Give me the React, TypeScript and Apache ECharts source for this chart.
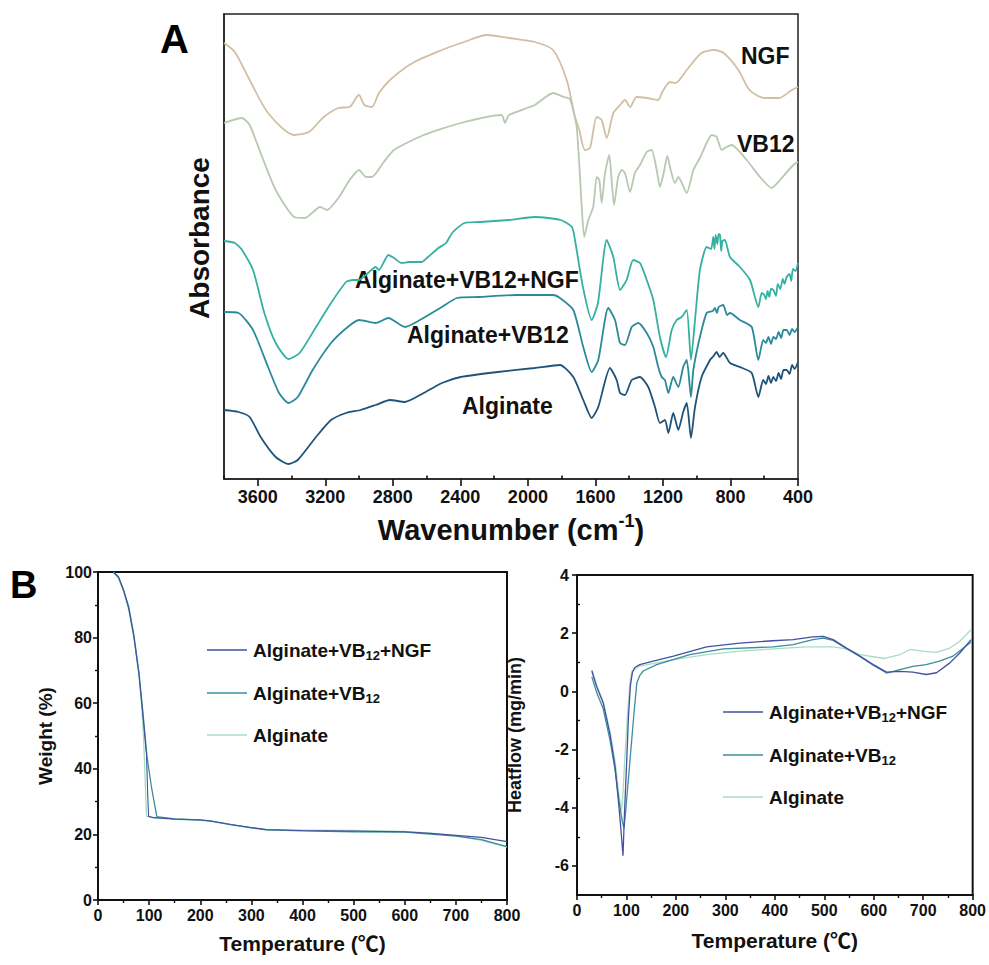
import React, { useEffect, useRef } from "react";
import * as echarts from "echarts";

// ---------- Panel A: FTIR (wavenumber cm-1, absorbance a.u.) ----------
const ftirNGF: number[][] = [
  [3800, 4.36], [3736, 4.27], [3648, 3.99], [3539, 3.66], [3385, 3.44], [3297, 3.47], [3209, 3.62],
  [3122, 3.71], [3056, 3.72], [3001, 3.84], [2968, 3.74], [2924, 3.72], [2882, 3.86], [2817, 3.99],
  [2683, 4.16], [2509, 4.29], [2378, 4.37], [2244, 4.44], [2112, 4.41], [1959, 4.37], [1851, 4.29],
  [1770, 3.99], [1721, 3.62], [1697, 3.5], [1662, 3.29], [1632, 3.31], [1592, 3.62], [1563, 3.59],
  [1533, 3.41], [1494, 3.66], [1454, 3.74], [1425, 3.79], [1395, 3.72], [1356, 3.82], [1296, 3.81],
  [1228, 3.79], [1207, 3.86], [1178, 3.94], [1158, 3.97], [1125, 3.96], [1059, 4.09], [972, 4.26],
  [898, 4.29], [840, 4.26], [753, 4.09], [687, 3.89], [602, 3.81], [513, 3.81], [436, 3.89], [400, 3.92],
];
const ftirVB12: number[][] = [
  [3800, 3.56], [3693, 3.61], [3648, 3.54], [3583, 3.26], [3494, 2.89], [3385, 2.62], [3320, 2.61],
  [3231, 2.72], [3190, 2.69], [3122, 2.81], [3056, 2.99], [3000, 3.09], [2959, 3.02], [2924, 3.02],
  [2858, 3.16], [2793, 3.29], [2617, 3.44], [2398, 3.56], [2156, 3.64], [2136, 3.56], [2112, 3.64],
  [1959, 3.74], [1851, 3.86], [1786, 3.82], [1751, 3.8], [1711, 3.52], [1681, 2.72], [1666, 2.42],
  [1642, 2.59], [1613, 2.72], [1592, 3.02], [1577, 2.99], [1563, 2.76], [1543, 3.06], [1518, 3.24],
  [1504, 2.99], [1490, 2.74], [1465, 3.02], [1444, 3.09], [1425, 3.06], [1395, 2.87], [1366, 3.06],
  [1336, 3.14], [1296, 3.27], [1267, 3.29], [1237, 3.09], [1218, 2.92], [1198, 3.04], [1174, 3.23],
  [1154, 3.09], [1129, 2.96], [1109, 3.02], [1059, 2.86], [1020, 3.09], [981, 3.21], [941, 3.36],
  [911, 3.44], [882, 3.42], [852, 3.29], [823, 3.32], [793, 3.34], [704, 3.19], [625, 3.02],
  [556, 2.91], [507, 2.99], [428, 3.14], [400, 3.17],
];
const ftirAlgVB12NGF: number[][] = [
  [3800, 2.38], [3736, 2.36], [3693, 2.29], [3628, 2.09], [3561, 1.66], [3494, 1.36], [3418, 1.2],
  [3352, 1.26], [3255, 1.52], [3166, 1.76], [3077, 1.97], [3036, 1.99], [3000, 1.99], [2947, 2.06],
  [2902, 2.12], [2882, 2.09], [2826, 2.24], [2793, 2.21], [2749, 2.16], [2704, 2.17], [2628, 2.17],
  [2598, 2.21], [2530, 2.31], [2485, 2.36], [2444, 2.47], [2376, 2.56], [2290, 2.57], [2112, 2.59],
  [1959, 2.62], [1806, 2.59], [1739, 2.52], [1721, 2.39], [1674, 1.92], [1622, 1.59], [1585, 1.76],
  [1533, 2.39], [1494, 2.22], [1454, 1.89], [1415, 1.99], [1376, 2.19], [1336, 2.16], [1296, 1.99],
  [1257, 1.79], [1218, 1.42], [1182, 1.22], [1148, 1.49], [1119, 1.59], [1089, 1.62], [1059, 1.69],
  [1034, 1.19], [1010, 1.59], [981, 2.09], [941, 2.32], [915, 2.3], [902, 2.42], [895, 2.3],
  [888, 2.44], [878, 2.35], [870, 2.45], [862, 2.44], [855, 2.28], [848, 2.38], [833, 2.39],
  [803, 2.22], [744, 2.12], [684, 1.99], [635, 1.72], [615, 1.86], [600, 1.84], [590, 1.8],
  [580, 1.88], [570, 1.82], [560, 1.9], [546, 1.89], [530, 1.83], [520, 1.95], [505, 1.9],
  [490, 2.0], [480, 1.95], [467, 2.02], [450, 2.05], [440, 1.98], [430, 2.1], [415, 2.08], [400, 2.16],
];
const ftirAlgVB12: number[][] = [
  [3800, 1.67], [3714, 1.66], [3628, 1.49], [3539, 1.12], [3474, 0.86], [3418, 0.76], [3363, 0.82],
  [3275, 1.09], [3166, 1.36], [3067, 1.52], [3000, 1.59], [2902, 1.56], [2826, 1.61], [2728, 1.52],
  [2639, 1.59], [2509, 1.72], [2420, 1.81], [2290, 1.82], [2070, 1.84], [1851, 1.84], [1810, 1.81],
  [1731, 1.69], [1672, 1.32], [1622, 1.07], [1583, 1.19], [1524, 1.71], [1484, 1.59], [1454, 1.36],
  [1425, 1.34], [1385, 1.52], [1346, 1.56], [1296, 1.46], [1257, 1.32], [1228, 1.12], [1207, 1.02],
  [1188, 0.99], [1168, 0.86], [1139, 1.02], [1109, 0.92], [1080, 1.12], [1059, 1.19], [1034, 0.82],
  [1020, 1.09], [981, 1.42], [941, 1.66], [905, 1.68], [892, 1.71], [880, 1.66], [870, 1.72],
  [843, 1.74], [820, 1.64], [803, 1.66], [744, 1.59], [674, 1.52], [635, 1.19], [606, 1.39],
  [590, 1.36], [575, 1.42], [560, 1.35], [546, 1.42], [530, 1.4], [515, 1.47], [500, 1.41],
  [486, 1.49], [467, 1.49], [450, 1.44], [435, 1.5], [420, 1.47], [400, 1.52],
];
const ftirAlg: number[][] = [
  [3800, 0.69], [3714, 0.67], [3648, 0.62], [3583, 0.42], [3494, 0.22], [3418, 0.15], [3363, 0.19],
  [3255, 0.42], [3166, 0.59], [3077, 0.66], [2990, 0.69], [2902, 0.74], [2817, 0.79], [2728, 0.77],
  [2617, 0.86], [2509, 0.96], [2398, 1.02], [2178, 1.07], [1959, 1.11], [1810, 1.14], [1731, 1.02],
  [1672, 0.79], [1622, 0.61], [1583, 0.72], [1514, 1.11], [1474, 0.99], [1454, 0.86], [1425, 0.84],
  [1385, 0.99], [1336, 1.02], [1287, 0.92], [1247, 0.72], [1218, 0.56], [1188, 0.59], [1168, 0.46],
  [1139, 0.66], [1109, 0.49], [1080, 0.67], [1059, 0.76], [1034, 0.41], [1010, 0.72], [971, 1.02],
  [921, 1.19], [905, 1.22], [882, 1.27], [865, 1.22], [843, 1.26], [803, 1.16], [744, 1.12],
  [674, 1.06], [635, 0.82], [606, 0.99], [590, 0.95], [575, 1.03], [560, 0.96], [546, 1.02],
  [530, 0.98], [515, 1.06], [500, 1.0], [486, 1.09], [467, 1.09], [450, 1.05], [435, 1.14],
  [420, 1.1], [400, 1.17],
];
const ftirTicks = [400, 800, 1200, 1600, 2000, 2400, 2800, 3200, 3600];
const ftirMinorTicks = [600, 1000, 1400, 1800, 2200, 2600, 3000, 3400, 3800];

// ---------- Panel B left: TGA (temperature °C, weight %) ----------
const tgaAlgVB12NGF: number[][] = [
  [30, 100], [40, 98.5], [50, 94.5], [60, 89], [70, 80.5], [80, 69], [88, 56], [95, 44], [97, 33],
  [99, 25.5], [110, 25.1], [150, 24.7], [200, 24.4], [220, 24.1], [260, 23], [300, 22.1], [330, 21.5],
  [400, 21.2], [500, 21], [600, 20.8], [650, 20.3], [700, 19.7], [750, 19.1], [800, 17.8],
];
const tgaAlgVB12: number[][] = [
  [30, 100], [40, 98.5], [50, 94.5], [60, 89.5], [70, 81], [80, 69.5], [88, 57], [96, 43.5],
  [105, 34], [115, 25.4], [130, 25.1], [150, 24.7], [200, 24.4], [220, 24.1], [260, 23], [300, 22],
  [330, 21.4], [400, 21.1], [500, 20.8], [600, 20.7], [650, 20.1], [700, 19.5], [750, 18.4], [800, 16.3],
];
const tgaAlg: number[][] = [
  [30, 100], [40, 98], [50, 94], [60, 88.5], [70, 80], [80, 68.5], [85, 60], [89, 50], [91, 42],
  [93, 33], [95, 25.5], [110, 25], [150, 24.6], [200, 24.3], [220, 24], [260, 22.9], [300, 22],
  [330, 21.3], [400, 21.3], [500, 21.2], [600, 20.9], [650, 20.4], [700, 19.6], [750, 18.2], [800, 16.1],
];

// ---------- Panel B right: DSC (temperature °C, heat flow mg/min) ----------
const dscAlgVB12NGF: number[][] = [
  [30, 0.7], [40, 0.15], [53, -0.4], [67, -1.5], [77, -2.6], [85, -4.0], [90, -5.0], [93, -5.65],
  [96, -4.2], [100, -2.6], [104, -0.9], [108, 0.2], [112, 0.65], [117, 0.82], [127, 0.92], [150, 1.02],
  [195, 1.21], [262, 1.53], [329, 1.66], [396, 1.74], [437, 1.78], [477, 1.87], [498, 1.89], [518, 1.78],
  [545, 1.49], [572, 1.21], [599, 0.92], [626, 0.66], [653, 0.69], [679, 0.66], [706, 0.58], [727, 0.64],
  [754, 0.98], [774, 1.32], [797, 1.78],
];
const dscAlgVB12: number[][] = [
  [30, 0.5], [40, -0.05], [53, -0.6], [67, -1.7], [77, -2.7], [86, -3.9], [92, -4.5], [95, -4.7],
  [98, -4.2], [104, -3.0], [110, -1.8], [116, -0.6], [121, 0.3], [127, 0.55], [134, 0.7], [161, 0.92],
  [228, 1.26], [296, 1.46], [397, 1.53], [437, 1.61], [477, 1.78], [498, 1.83], [518, 1.75], [545, 1.47],
  [572, 1.2], [599, 0.9], [626, 0.63], [653, 0.75], [679, 0.86], [706, 0.92], [733, 1.04], [760, 1.21],
  [797, 1.7],
];
const dscAlg: number[][] = [
  [30, 0.75], [40, 0.2], [53, -0.35], [67, -1.4], [77, -2.4], [85, -3.6], [90, -4.1], [93, -3.5],
  [97, -2.2], [102, -0.8], [107, 0.3], [111, 0.7], [127, 0.87], [195, 1.09], [262, 1.26], [329, 1.38],
  [397, 1.46], [464, 1.53], [518, 1.53], [545, 1.46], [572, 1.26], [599, 1.19], [622, 1.13], [653, 1.26],
  [673, 1.44], [700, 1.38], [727, 1.34], [754, 1.49], [774, 1.72], [797, 2.12],
];
const dscMajorTicks = [-6, -4, -2, 0, 2, 4];
const dscMinorTicks = [-5, -3, -1, 1, 3];

const FONT = "Liberation Sans, Arial, Helvetica, sans-serif";
const C = {
  ngf: "#d3bea4",
  vb12: "#b7c9b1",
  algVB12NGF: "#35b0a1",
  algVB12: "#2b8a9a",
  alg: "#1f5479",
  bNGF: "#4650a0",
  bVB12: "#3a8f9a",
  bAlg: "#a8dcc4",
};

const legendRich = {
  a: { fontSize: 19, fontWeight: "bold", fontFamily: FONT, fill: "#111", color: "#111" },
  s: { fontSize: 13, fontWeight: "bold", fontFamily: FONT, fill: "#111", color: "#111", padding: [10, 0, 0, 0] },
};

function legendItems(x: number, ys: number[]) {
  const items = [
    { color: C.bNGF, text: "{a|Alginate+VB}{s|12}{a|+NGF}" },
    { color: C.bVB12, text: "{a|Alginate+VB}{s|12}" },
    { color: C.bAlg, text: "{a|Alginate}" },
  ];
  const out: any[] = [];
  items.forEach((it, i) => {
    out.push({
      type: "line",
      shape: { x1: x, y1: ys[i], x2: x + 40, y2: ys[i] },
      style: { stroke: it.color, lineWidth: 1.5 },
    });
    out.push({
      type: "text",
      x: x + 46,
      y: ys[i],
      style: {
        text: it.text,
        rich: legendRich,
        verticalAlign: "middle",
        align: "left",
      },
    });
  });
  return out;
}

export default function App() {
  const ref = useRef<HTMLDivElement>(null);
  useEffect(() => {
    if (!ref.current) return;
    const chart = echarts.init(ref.current, undefined, { renderer: "svg" });
    const axisLine = { show: true, onZero: false, lineStyle: { color: "#111", width: 2 } };
    const lbl = (size: number) => ({ fontSize: size, fontWeight: "bold", color: "#111", fontFamily: FONT });
    const line = (name: string, data: number[][], color: string, xi: number, yi: number, w = 1.6, smooth: any = false) => ({
      type: "line",
      name,
      data,
      xAxisIndex: xi,
      yAxisIndex: yi,
      showSymbol: false,
      symbol: "none",
      smooth,
      lineStyle: { color, width: w },
      itemStyle: { color },
      silent: true,
    });
    const tickStyle = { color: "#111", width: 1.6 };
    const option: any = {
      animation: false,
      backgroundColor: "#fff",
      grid: [
        { left: 224, top: 14, width: 574, height: 465, show: true, borderColor: "#222", borderWidth: 1.5 },
        { left: 98, top: 572, width: 409, height: 328, show: true, borderColor: "#111", borderWidth: 2 },
        { left: 577, top: 575, width: 396, height: 320, show: true, borderColor: "#111", borderWidth: 2 },
      ],
      xAxis: [
        {
          gridIndex: 0, type: "value", min: 400, max: 3800, inverse: true,
          axisLine: { ...axisLine, lineStyle: { color: "#222", width: 1.5 } }, splitLine: { show: false },
          axisTick: { show: true, length: 7, customValues: ftirTicks, lineStyle: tickStyle },
          axisLabel: { ...lbl(18), margin: 9, customValues: ftirTicks, formatter: (v: number) => String(v) },
          name: "{t|Wavenumber (cm}{p|-1}{t|)}",
          nameLocation: "middle", nameGap: 33,
          nameTextStyle: {
            rich: {
              t: { fontSize: 29, fontWeight: "bold", fontFamily: FONT, color: "#111" },
              p: { fontSize: 18, fontWeight: "bold", fontFamily: FONT, color: "#111", padding: [0, 0, 17, 0] },
            },
          },
        },
        {
          gridIndex: 0, type: "value", min: 400, max: 3800, inverse: true,
          axisLine: { show: false }, splitLine: { show: false }, axisLabel: { show: false },
          axisTick: { show: true, length: 3.5, customValues: ftirMinorTicks, lineStyle: tickStyle },
        },
        {
          gridIndex: 1, type: "value", min: 0, max: 800, interval: 100,
          axisLine, splitLine: { show: false },
          axisTick: { show: true, length: 5, lineStyle: tickStyle },
          minorTick: { show: true, splitNumber: 2, length: 3, lineStyle: { color: "#111", width: 1.4 } },
          axisLabel: { ...lbl(16), margin: 7 },
          name: "Temperature (℃)", nameLocation: "middle", nameGap: 33,
          nameTextStyle: { fontSize: 21, fontWeight: "bold", fontFamily: FONT + ", Noto Sans CJK SC", color: "#111" },
        },
        {
          gridIndex: 2, type: "value", min: 0, max: 800, interval: 100,
          axisLine, splitLine: { show: false },
          axisTick: { show: true, length: 5, lineStyle: tickStyle },
          minorTick: { show: true, splitNumber: 2, length: 3, lineStyle: { color: "#111", width: 1.4 } },
          axisLabel: { ...lbl(16), margin: 7 },
          name: "Temperature (℃)", nameLocation: "middle", nameGap: 35,
          nameTextStyle: { fontSize: 21, fontWeight: "bold", fontFamily: FONT + ", Noto Sans CJK SC", color: "#111" },
        },
      ],
      yAxis: [
        {
          gridIndex: 0, type: "value", min: 0, max: 4.65,
          axisLine: { ...axisLine, lineStyle: { color: "#222", width: 1.5 } },
          splitLine: { show: false }, axisTick: { show: false }, axisLabel: { show: false },
        },
        {
          gridIndex: 1, type: "value", min: 0, max: 100, interval: 20,
          axisLine, splitLine: { show: false },
          axisTick: { show: true, length: 5, lineStyle: tickStyle },
          minorTick: { show: true, splitNumber: 2, length: 3, lineStyle: { color: "#111", width: 1.4 } },
          axisLabel: { ...lbl(16), margin: 6 },
          name: "Weight (%)", nameLocation: "middle", nameGap: 43, nameRotate: 90,
          nameTextStyle: { fontSize: 19, fontWeight: "bold", fontFamily: FONT, color: "#111" },
        },
        {
          gridIndex: 2, type: "value", min: -7, max: 4,
          axisLine, splitLine: { show: false },
          axisTick: { show: true, length: 5, customValues: dscMajorTicks, lineStyle: tickStyle },
          axisLabel: { ...lbl(16), margin: 8, customValues: dscMajorTicks },
          name: "Heatflow (mg/min)", nameLocation: "middle", nameGap: 53, nameRotate: 90,
          nameTextStyle: { fontSize: 18, fontWeight: "bold", fontFamily: FONT, color: "#111" },
        },
        {
          gridIndex: 2, type: "value", min: -7, max: 4,
          axisLine: { show: false }, splitLine: { show: false }, axisLabel: { show: false },
          axisTick: { show: true, length: 3, customValues: dscMinorTicks, lineStyle: { color: "#111", width: 1.4 } },
        },
      ],
      series: [
        line("NGF", ftirNGF, C.ngf, 0, 0, 1.8, 0.25),
        line("VB12", ftirVB12, C.vb12, 0, 0, 1.8, 0.2),
        line("Alginate+VB12+NGF", ftirAlgVB12NGF, C.algVB12NGF, 0, 0, 1.8, 0.2),
        line("Alginate+VB12", ftirAlgVB12, C.algVB12, 0, 0, 1.8, 0.2),
        line("Alginate", ftirAlg, C.alg, 0, 0, 1.8, 0.2),
        line("TGA Alginate", tgaAlg, C.bAlg, 2, 1, 1.3),
        line("TGA Alginate+VB12", tgaAlgVB12, C.bVB12, 2, 1, 1.3),
        line("TGA Alginate+VB12+NGF", tgaAlgVB12NGF, C.bNGF, 2, 1, 1.1),
        line("DSC Alginate", dscAlg, C.bAlg, 3, 2, 1.3),
        line("DSC Alginate+VB12", dscAlgVB12, C.bVB12, 3, 2, 1.3),
        line("DSC Alginate+VB12+NGF", dscAlgVB12NGF, C.bNGF, 3, 2, 1.3),
      ],
      graphic: [
        { type: "text", x: 160, y: 19, style: { text: "A", font: `bold 40px ${FONT}`, fill: "#000" } },
        { type: "text", x: 10, y: 566, style: { text: "B", font: `bold 38px ${FONT}`, fill: "#000" } },
        {
          type: "text", x: 199, y: 238, rotation: Math.PI / 2,
          style: { text: "Absorbance", font: `bold 28px ${FONT}`, fill: "#111", align: "center", verticalAlign: "middle" },
        },
        { type: "text", x: 741, y: 44, style: { text: "NGF", font: `bold 23px ${FONT}`, fill: "#111" } },
        { type: "text", x: 737, y: 132, style: { text: "VB12", font: `bold 23px ${FONT}`, fill: "#111" } },
        { type: "text", x: 355, y: 268, style: { text: "Alginate+VB12+NGF", font: `bold 23px ${FONT}`, fill: "#111" } },
        { type: "text", x: 407, y: 323, style: { text: "Alginate+VB12", font: `bold 23px ${FONT}`, fill: "#111" } },
        { type: "text", x: 462, y: 394, style: { text: "Alginate", font: `bold 23px ${FONT}`, fill: "#111" } },
        ...legendItems(207, [650, 693, 735]),
        ...legendItems(723, [712, 755, 797]),
      ],
    };
    chart.setOption(option);
    return () => chart.dispose();
  }, []);
  return (
    <div
      ref={ref}
      style={{ position: "fixed", left: 0, top: 0, width: 989, height: 965, background: "#fff" }}
    />
  );
}
